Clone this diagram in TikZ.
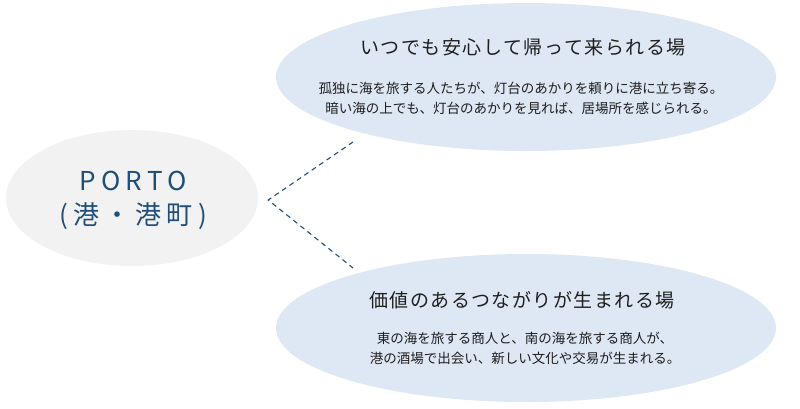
\documentclass[tikz,border=0pt]{standalone}
\usepackage{fontspec}
\setmainfont{Noto Sans CJK JP}
\newfontfamily\portofont[LetterSpace=20]{Noto Sans CJK JP}
\newfontfamily\headfont[LetterSpace=8]{Noto Sans CJK JP}
\usetikzlibrary{shapes.geometric}
\definecolor{portoblue}{HTML}{1F4E79}
\definecolor{bubbleblue}{HTML}{DEE8F4}
\definecolor{portogray}{HTML}{F2F2F2}
\definecolor{inkgray}{HTML}{1E1E1E}
\tikzset{
  bubble/.style={ellipse, fill=bubbleblue, inner sep=0, minimum width=500, minimum height=148},
  headline/.style={text=inkgray, inner sep=0, font=\headfont\fontsize{19}{23}\selectfont},
  story/.style={text=inkgray, inner sep=0, align=center, font=\fontsize{13.5}{20}\selectfont},
  link/.style={portoblue, line width=1.1pt, dash pattern=on 5pt off 4pt}
}

\begin{document}
\begin{tikzpicture}[x=1pt,y=-1pt]
	%%%%% START %%%%%
	\useasboundingbox (0,0) rectangle (800,408);

	\node[ellipse, fill=portogray, inner sep=0, minimum width=252, minimum height=136] (porto) at (132,198) {};
	\node[text=portoblue, inner sep=0, align=center, font=\portofont\fontsize{26}{34}\selectfont] (portoname) at (133,200) {PORTO\\(港・港町)};

	\node[bubble] (home) at (526,77) {};
	\node[headline] (hometitle) at (523,47) {いつでも安心して帰って来られる場};
	\node[story] (homestory) at (521,98) {孤独に海を旅する人たちが、灯台のあかりを頼りに港に立ち寄る。\\暗い海の上でも、灯台のあかりを見れば、居場所を感じられる。};

	\node[bubble] (meet) at (526,328) {};
	\node[headline] (meettitle) at (522,300) {価値のあるつながりが生まれる場};
	\node[story] (meetstory) at (525,348) {東の海を旅する商人と、南の海を旅する商人が、\\港の酒場で出会い、新しい文化や交易が生まれる。};

	\coordinate (homeend) at (353,142);
	\coordinate (meetend) at (353,268);
	\draw[link] (homeend) -- ([xshift=10pt,yshift=-2pt]porto.east) -- (meetend);

	%%%%% END %%%%%
\end{tikzpicture}
\end{document}
